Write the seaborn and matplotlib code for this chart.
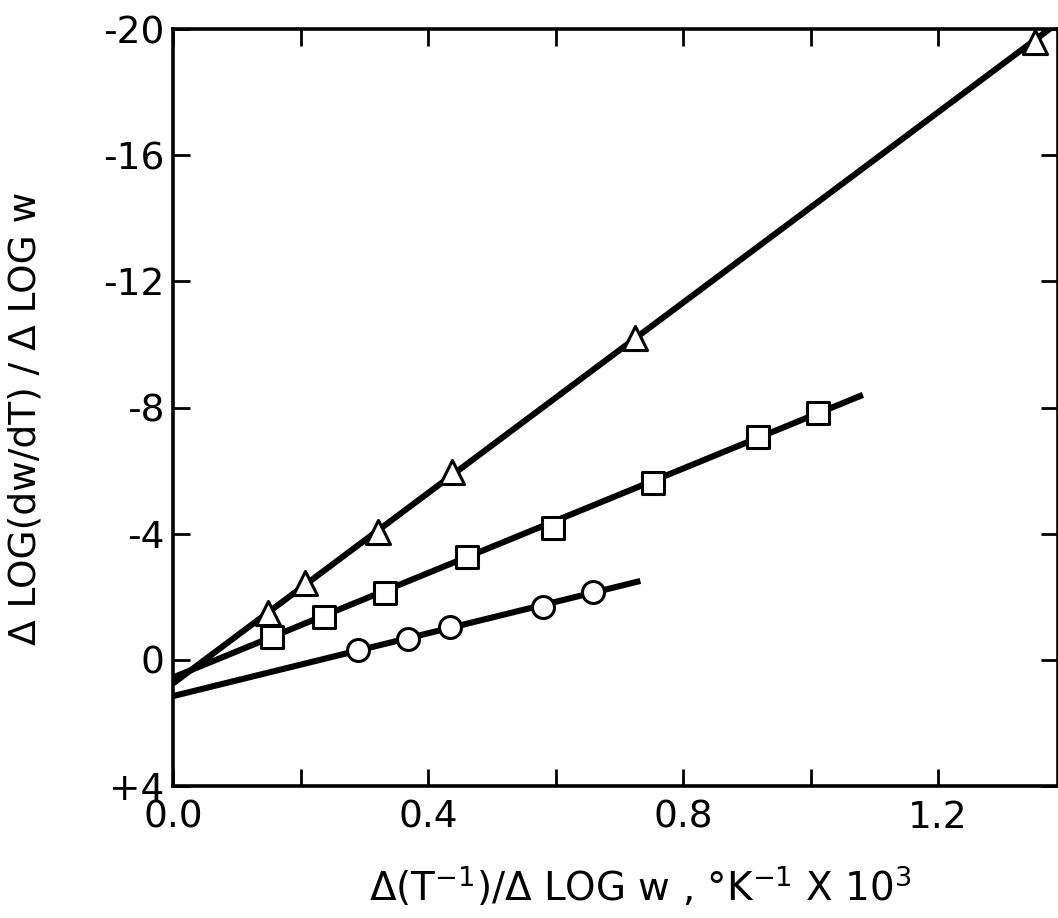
#Recreate the dw/dT vs temperature plot
import numpy as np
import matplotlib
matplotlib.use('Agg')
import matplotlib.pyplot as plt
import seaborn as sns

#Data
tri_x = [0.149, 0.207, 0.322, 0.438, 0.725, 1.352]
tri_y = [-1.50, -2.44, -4.05, -5.95, -10.20, -19.59]
sq_x = [0.155, 0.237, 0.333, 0.461, 0.596, 0.753, 0.918, 1.012]
sq_y = [-0.72, -1.36, -2.12, -3.26, -4.18, -5.61, -7.06, -7.82]
circ_x = [0.290, 0.369, 0.435, 0.580, 0.659]
circ_y = [-0.31, -0.66, -1.04, -1.67, -2.15]

#fitted lines, start and end points
tri_line_x = [0.0, 1.388]
tri_line_y = [0.75, -20.2]
sq_line_x = [0.0, 1.082]
sq_line_y = [0.56, -8.40]
circ_line_x = [0.0, 0.733]
circ_line_y = [1.15, -2.50]

xticks = [0.0, 0.2, 0.4, 0.6, 0.8, 1.0, 1.2]
xticklabels = ['0.0', '', '0.4', '', '0.8', '', '1.2']
yticks = [-20, -16, -12, -8, -4, 0, 4]
yticklabels = ['-20', '-16', '-12', '-8', '-4', '0', '+4']

sns.set_style('ticks')
plt.rcParams['font.family'] = ['DejaVu Sans']
plt.rcParams['mathtext.fontset'] = 'dejavusans'

fig = plt.figure(figsize=(10.58, 9.18), dpi=100)
ax = fig.add_axes([0.1635, 0.1438, 0.8365, 0.8246])

lw = 4.4
for lx, ly in [(tri_line_x, tri_line_y), (sq_line_x, sq_line_y), (circ_line_x, circ_line_y)]:
    sns.lineplot(x=lx, y=ly, ax=ax, color='black', linewidth=lw, solid_capstyle='butt',
                 estimator=None, sort=False)

sns.scatterplot(x=tri_x, y=tri_y, ax=ax, marker='^', s=300, facecolor='white',
                edgecolor='black', linewidth=2.2, zorder=5)
sns.scatterplot(x=sq_x, y=sq_y, ax=ax, marker='s', s=240, facecolor='white',
                edgecolor='black', linewidth=2.2, zorder=5)
sns.scatterplot(x=circ_x, y=circ_y, ax=ax, marker='o', s=250, facecolor='white',
                edgecolor='black', linewidth=2.2, zorder=5)

ax.set_xlim(0, 1.388)
ax.set_ylim(4, -20)
ax.set_xticks(xticks)
ax.set_xticklabels(xticklabels)
ax.set_yticks(yticks)
ax.set_yticklabels(yticklabels)

for side in ['left', 'right', 'top', 'bottom']:
    ax.spines[side].set_linewidth(2.6)
    ax.spines[side].set_color('black')
ax.tick_params(direction='in', length=12, width=2, top=True, right=True,
               labelsize=27, colors='black', labelcolor='black')
ax.tick_params(axis='x', pad=10)
ax.tick_params(axis='y', pad=6)

ax.set_xlabel('Δ(T$^{-1}$)/Δ LOG w , °K$^{-1}$ X 10$^3$', fontsize=28, color='black')
ax.xaxis.set_label_coords(0.528, -0.103)
ax.set_ylabel('Δ LOG(dw/dT) / Δ LOG w', fontsize=27, color='black')
ax.yaxis.set_label_coords(-0.146, 0.486)

plt.savefig('out.png', dpi=100)
